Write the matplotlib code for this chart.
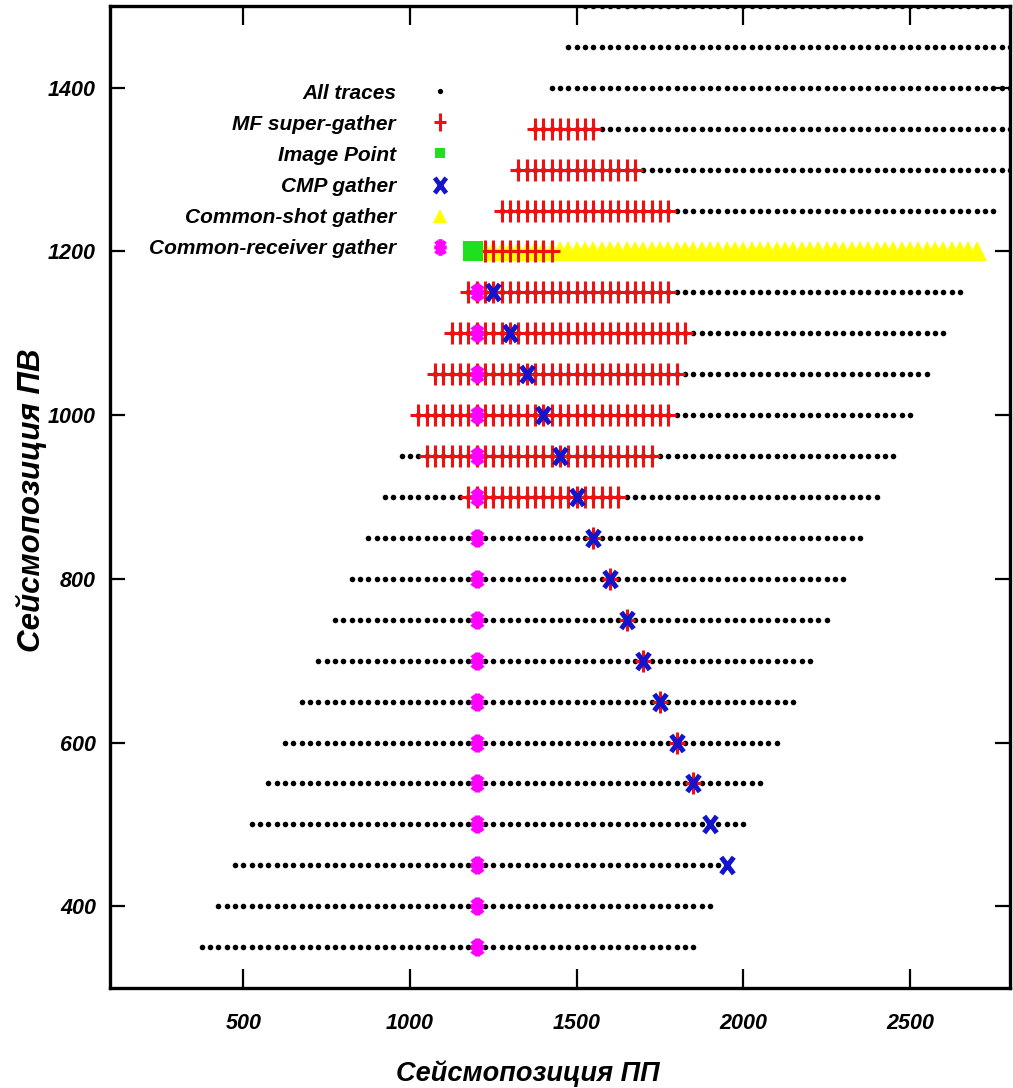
import numpy as np
import matplotlib
matplotlib.use("Agg")
import matplotlib.pyplot as plt
from matplotlib.lines import Line2D
from matplotlib.path import Path

plt.rcParams['font.family'] = ['Liberation Sans', 'DejaVu Sans']

# shot rows (y) and receiver spread for each shot
shot_y = [350, 400, 450, 500, 550, 600, 650, 700, 750, 800, 850, 900,
          950, 1000, 1050, 1100, 1150, 1200, 1250, 1300, 1350, 1400, 1450, 1500]
rcv_first = [375, 425, 475, 525, 575, 625, 675, 725, 775, 825, 875, 925,
             975, 1025, 1075, 1125, 1175, 1225, 1275, 1325, 1375, 1425, 1475, 1525]
rcv_last = [1850, 1900, 1950, 2000, 2050, 2100, 2150, 2200, 2250, 2300, 2350, 2400,
            2450, 2500, 2550, 2600, 2650, 2700, 2750, 2800, 2850, 2900, 2950, 3000]
rcv_step = 25

# MF super-gather: full ranges on upper rows
mf_shot = [900, 950, 1000, 1050, 1100, 1150, 1200, 1250, 1300, 1350]
mf_first = [1175, 1050, 1025, 1075, 1125, 1175, 1225, 1275, 1325, 1375]
mf_last = [1625, 1725, 1775, 1800, 1825, 1775, 1425, 1775, 1675, 1550]
# MF traces on lower rows (single traces under CMP marks)
mf_single_shot = [550, 600, 650, 700, 750, 800, 850]
mf_single_x = [1850, 1800, 1750, 1700, 1650, 1600, 1550]

# CMP gather
cmp_shot = [450, 500, 550, 600, 650, 700, 750, 800, 850, 900, 950, 1000, 1050, 1100, 1150]
cmp_x = [1950, 1900, 1850, 1800, 1750, 1700, 1650, 1600, 1550, 1500, 1450, 1400, 1350, 1300, 1250]

# common-receiver gather
cr_shot = [350, 400, 450, 500, 550, 600, 650, 700, 750, 800, 850, 900, 950, 1000, 1050, 1100, 1150]
cr_x = 1200

# common-shot gather
cs_shot = 1200
cs_first = 1225
cs_last = 2700

# image point
ip_x, ip_y = 1190, 1200

xticks = [500, 1000, 1500, 2000, 2500]
yticks = [400, 600, 800, 1000, 1200, 1400]

red = '#ee1111'
green = '#1ee01e'
blue = '#1414cc'
yellow = '#ffff00'
magenta = '#ff00ff'

# gnuplot-like point shapes, a bit taller than wide
M, L = Path.MOVETO, Path.LINETO
plus_m = Path([(-0.7, 0), (0.7, 0), (0, -1), (0, 1)], [M, L, M, L])
cross_m = Path([(-0.75, -1), (0.75, 1), (-0.75, 1), (0.75, -1)], [M, L, M, L])
star_m = Path([(-0.75, 0), (0.75, 0), (0, -1), (0, 1),
               (-0.55, -0.75), (0.55, 0.75), (-0.55, 0.75), (0.55, -0.75)],
              [M, L, M, L, M, L, M, L])

fig = plt.figure(figsize=(10.13, 10.88), dpi=100)
ax = fig.add_axes([0.1086, 0.0919, 0.8884, 0.9026])

# all traces
ax_x, ax_y = [], []
for y, a, b in zip(shot_y, rcv_first, rcv_last):
    xs = np.arange(a, b + 1, rcv_step)
    ax_x.extend(xs)
    ax_y.extend([y] * len(xs))
ax.plot(ax_x, ax_y, 'o', color='black', ms=4, mew=0, zorder=2)

# common-shot gather
cs_xs = np.arange(cs_first, cs_last + 1, rcv_step)
ax.plot(cs_xs, [cs_shot] * len(cs_xs), '^', color=yellow, ms=14, mew=0, zorder=3)

# MF super-gather
mx, my = [], []
for y, a, b in zip(mf_shot, mf_first, mf_last):
    xs = np.arange(a, b + 1, rcv_step)
    mx.extend(xs)
    my.extend([y] * len(xs))
mx.extend(mf_single_x)
my.extend(mf_single_shot)
ax.plot(mx, my, marker=plus_m, ls='none', color=red, ms=16, mew=2.2, zorder=4)

# image point
ax.plot([ip_x], [ip_y], 's', color=green, ms=15, mew=0, zorder=5)

# common-receiver gather
ax.plot([cr_x] * len(cr_shot), cr_shot, marker=star_m, ls='none', color=magenta,
        ms=13, mew=3.6, zorder=6)

# CMP gather
ax.plot(cmp_x, cmp_shot, marker=cross_m, ls='none', color=blue, ms=12, mew=3.6, zorder=7)

ax.set_xlim(100, 2800)
ax.set_ylim(300, 1500)
ax.set_xticks(xticks)
ax.set_yticks(yticks)

for s in ax.spines.values():
    s.set_linewidth(2.4)
    s.set_zorder(10)
ax.tick_params(axis='x', direction='in', length=14, width=1.6, top=True, pad=18)
ax.tick_params(axis='y', direction='in', length=11, width=1.6, right=True, pad=10)
for lab in ax.get_xticklabels() + ax.get_yticklabels():
    lab.set_fontsize(15.5)
    lab.set_fontweight('bold')
    lab.set_fontstyle('italic')

ax.set_xlabel('Сейсмопозиция ПП', fontsize=19.5, fontweight='bold', style='italic', va='center')
ax.set_ylabel('Сейсмопозиция ПВ', fontsize=22.5, fontweight='bold', style='italic', va='center')
ax.xaxis.set_label_coords(0.464, -0.0875)
ax.yaxis.set_label_coords(-0.087, 0.497)

handles = [
    Line2D([], [], ls='none', marker='o', color='black', ms=3.8, mew=0),
    Line2D([], [], ls='none', marker=plus_m, color=red, ms=13, mew=2.2),
    Line2D([], [], ls='none', marker='s', color=green, ms=7, mew=0),
    Line2D([], [], ls='none', marker=cross_m, color=blue, ms=11, mew=3.4),
    Line2D([], [], ls='none', marker='^', color=yellow, ms=10, mew=0),
    Line2D([], [], ls='none', marker=star_m, color=magenta, ms=12, mew=3.0),
]
labels = ['All traces', 'MF super-gather', 'Image Point', 'CMP gather',
          'Common-shot gather', 'Common-receiver gather']
leg = ax.legend(handles, labels, loc='upper right', bbox_to_anchor=(0.378, 0.921),
                markerfirst=False, frameon=False, handlelength=1.0, handletextpad=1.6,
                labelspacing=0.58, borderpad=0, borderaxespad=0,
                prop={'size': 15, 'weight': 'bold', 'style': 'italic'})

fig.savefig('out.png', dpi=100)
